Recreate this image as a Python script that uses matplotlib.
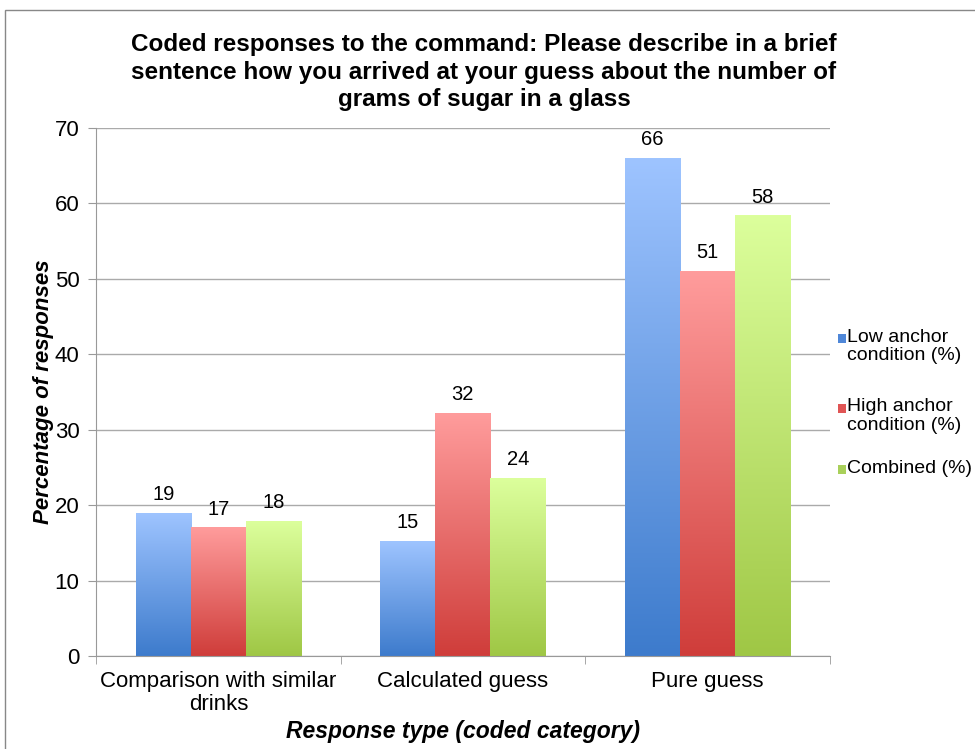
import numpy as np
import matplotlib
matplotlib.use("Agg")
import matplotlib.pyplot as plt
from matplotlib.colors import LinearSegmentedColormap
from matplotlib.patches import Rectangle

plt.rcParams['font.family'] = ['Liberation Sans', 'DejaVu Sans']

categories = ["Comparison with similar\ndrinks", "Calculated guess", "Pure guess"]
series_names = ["Low anchor\ncondition (%)", "High anchor\ncondition (%)", "Combined (%)"]
low_anchor = [18.9, 15.2, 66.0]
high_anchor = [17.0, 32.2, 51.0]
combined = [17.9, 23.6, 58.4]
values = [low_anchor, high_anchor, combined]

# top colour, bottom colour for each series
grad = [("#9ec4ff", "#3d7bcc"), ("#ff9c9c", "#cf3d3a"), ("#dcff9c", "#9fc745")]
legend_col = ["#4f87d8", "#e05555", "#a9d05a"]

fig = plt.figure(figsize=(9.75, 7.49), dpi=100)
ax = fig.add_axes([0.0985, 0.1242, 0.7525, 0.7048])

x = np.arange(len(categories))
w = 0.225
g = np.linspace(1, 0, 256).reshape(-1, 1)
for i, vals in enumerate(values):
    cmap = LinearSegmentedColormap.from_list("c%d" % i, [grad[i][1], grad[i][0]])
    pos = x + (i - 1) * w
    for p, v in zip(pos, vals):
        ax.imshow(g, extent=[p - w / 2, p + w / 2, 0, v],
                  aspect='auto', cmap=cmap, origin='upper', vmin=0, vmax=1, zorder=2)
        ax.text(p, v + 1.2, "%d" % round(v), ha='center', va='bottom', fontsize=14.5)

ax.set_xlim(-0.5, 2.5)
ax.set_ylim(0, 70)
ax.set_yticks(range(0, 71, 10))
ax.yaxis.grid(True, color="#aaaaaa", lw=1)
ax.set_axisbelow(True)
ax.set_xticks(x)
ax.set_xticklabels(categories, fontsize=16, linespacing=1.1)
ax.set_xticks([-0.5, 0.5, 1.5, 2.5], minor=True)
ax.tick_params(axis='x', which='major', length=0, pad=11)
ax.tick_params(axis='x', which='minor', length=6, color="#999999")
ax.tick_params(axis='y', labelsize=16, length=6, color="#999999", pad=6)
for s in ["top", "right"]:
    ax.spines[s].set_visible(False)
for s in ["left", "bottom"]:
    ax.spines[s].set_color("#999999")

ax.set_ylabel("Percentage of responses", fontsize=16, fontweight='bold', style='italic', labelpad=0)
ax.set_xlabel("Response type (coded category)", fontsize=16.5, fontweight='bold', style='italic', labelpad=4)
fig.text(484 / 975, 1 - 72 / 749,
         "Coded responses to the command: Please describe in a brief\n"
         "sentence how you arrived at your guess about the number of\n"
         "grams of sugar in a glass", fontsize=17.5, fontweight='bold',
         ha='center', va='center', linespacing=1.25)

# legend
leg_y = [0.548, 0.455, 0.373]
for name, col, yy in zip(series_names, legend_col, leg_y):
    fig.patches.append(Rectangle((0.859, yy - 0.006), 0.009, 0.012, transform=fig.transFigure,
                                 facecolor=col, edgecolor='none'))
    fig.text(0.869, yy + 0.013, name, fontsize=14, va='top', ha='left', linespacing=1.1)

# outer border
fig.patches.append(Rectangle((5 / 975, -0.05), 1.2, 1.05 - 10 / 749, transform=fig.transFigure,
                             facecolor='none', edgecolor="#888888", lw=1))

fig.savefig("out.png", dpi=100)
